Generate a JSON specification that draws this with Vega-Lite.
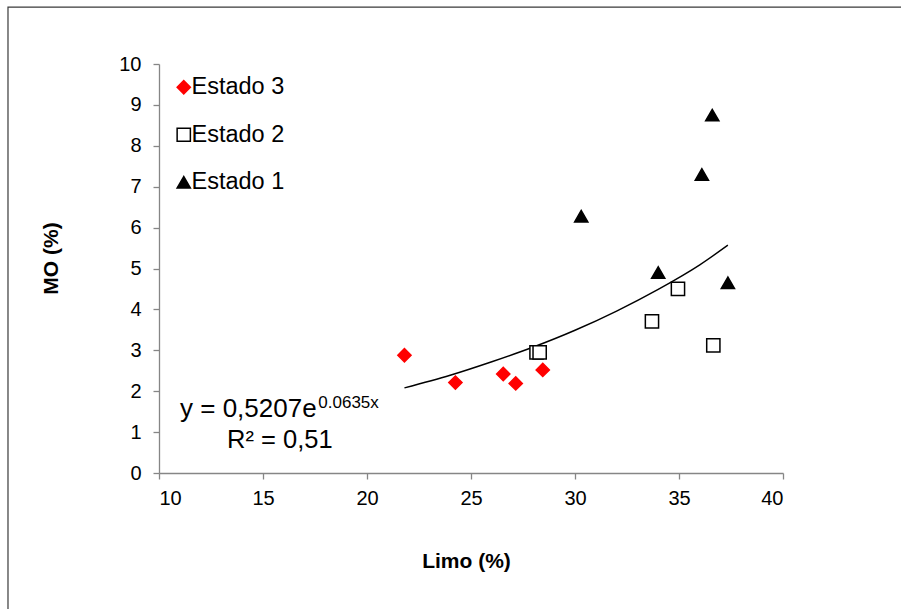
{
  "$schema": "https://vega.github.io/schema/vega-lite/v6.json",
  "width": 624,
  "height": 409,
  "autosize": {"type": "none"},
  "padding": {"left": 159, "top": 64, "right": 118, "bottom": 136},
  "background": "#ffffff",
  "config": {
    "view": {"stroke": null},
    "font": "Liberation Sans",
    "axis": {
      "grid": false,
      "domainColor": "#868686",
      "tickColor": "#868686",
      "domainWidth": 1.3,
      "tickWidth": 1.3,
      "tickSize": 6,
      "labelFont": "Liberation Sans",
      "labelFontSize": 20,
      "labelColor": "#000000",
      "titleFont": "Liberation Sans",
      "titleFontSize": 21,
      "titleFontWeight": "bold",
      "titleColor": "#000000"
    }
  },
  "datasets": {
    "puntos": [
      {"estado": "Estado 3", "limo": 21.8, "mo": 2.88},
      {"estado": "Estado 3", "limo": 24.25, "mo": 2.21},
      {"estado": "Estado 3", "limo": 26.55, "mo": 2.42},
      {"estado": "Estado 3", "limo": 27.15, "mo": 2.19},
      {"estado": "Estado 3", "limo": 28.45, "mo": 2.52},
      {"estado": "Estado 2", "limo": 28.15, "mo": 2.95},
      {"estado": "Estado 2", "limo": 28.3, "mo": 2.95},
      {"estado": "Estado 2", "limo": 33.7, "mo": 3.71},
      {"estado": "Estado 2", "limo": 34.95, "mo": 4.5},
      {"estado": "Estado 2", "limo": 36.65, "mo": 3.12},
      {"estado": "Estado 1", "limo": 30.3, "mo": 6.28},
      {"estado": "Estado 1", "limo": 34.0, "mo": 4.9},
      {"estado": "Estado 1", "limo": 36.1, "mo": 7.3},
      {"estado": "Estado 1", "limo": 36.6, "mo": 8.75},
      {"estado": "Estado 1", "limo": 37.35, "mo": 4.65}
    ],
    "tendencia": [
      {"limo": 21.8, "mo": 2.08},
      {"limo": 24, "mo": 2.39},
      {"limo": 26, "mo": 2.72},
      {"limo": 28, "mo": 3.08},
      {"limo": 30, "mo": 3.49},
      {"limo": 32, "mo": 3.96},
      {"limo": 34, "mo": 4.49},
      {"limo": 36, "mo": 5.09},
      {"limo": 37.35, "mo": 5.57}
    ]
  },
  "layer": [
    {
      "data": {"values": [{"marco": "borde"}]},
      "mark": {"type": "rect", "fill": null, "stroke": "#3a3a3a", "strokeWidth": 1.2, "clip": false},
      "encoding": {
        "x": {"datum": 2.74, "type": "quantitative", "scale": {"domain": [10, 40], "nice": false, "zero": false}},
        "x2": {"datum": 60},
        "y": {"datum": 11.39, "type": "quantitative", "scale": {"domain": [0, 10], "nice": false}},
        "y2": {"datum": -10}
      }
    },
    {
      "data": {"name": "tendencia"},
      "mark": {"type": "line", "color": "#000000", "strokeWidth": 1.4, "interpolate": "monotone"},
      "encoding": {
        "x": {"field": "limo", "type": "quantitative"},
        "y": {"field": "mo", "type": "quantitative"}
      }
    },
    {
      "data": {"name": "puntos"},
      "mark": {"type": "point", "filled": true, "size": 175, "strokeWidth": 1.5, "opacity": 1},
      "encoding": {
        "x": {
          "field": "limo", "type": "quantitative",
          "scale": {"domain": [10, 40], "nice": false, "zero": false},
          "axis": {"values": [10, 15, 20, 25, 30, 35, 40], "title": "Limo (%)", "labelPadding": 9, "titleX": 307, "titleY": 94, "titleBaseline": "alphabetic", "titleAlign": "center"}
        },
        "y": {
          "field": "mo", "type": "quantitative",
          "scale": {"domain": [0, 10], "nice": false},
          "axis": {"values": [0, 1, 2, 3, 4, 5, 6, 7, 8, 9, 10], "title": "MO (%)", "labelPadding": 12, "titleX": -102, "titleY": 194, "titleBaseline": "alphabetic", "titleAlign": "center", "titleAngle": 270}
        },
        "shape": {
          "field": "estado", "type": "nominal",
          "scale": {"domain": ["Estado 3", "Estado 2", "Estado 1"], "range": ["diamond", "square", "triangle-up"]},
          "legend": {"title": null}
        },
        "fill": {
          "field": "estado", "type": "nominal",
          "scale": {"domain": ["Estado 3", "Estado 2", "Estado 1"], "range": ["#ff0000", "#ffffff", "#000000"]},
          "legend": {"title": null}
        },
        "stroke": {
          "field": "estado", "type": "nominal",
          "scale": {"domain": ["Estado 3", "Estado 2", "Estado 1"], "range": ["#ff0000", "#000000", "#000000"]},
          "legend": {
            "title": null,
            "orient": "none",
            "legendX": 13,
            "legendY": 11.5,
            "padding": 0,
            "labelFont": "Liberation Sans",
            "labelFontSize": 23.5,
            "labelColor": "#000000",
            "labelOffset": -4,
            "rowPadding": 22.5,
            "symbolSize": 175,
            "symbolStrokeWidth": 1.5
          }
        }
      }
    },
    {
      "data": {"values": [{"texto": "y = 0,5207e"}]},
      "mark": {"type": "text", "align": "left", "baseline": "alphabetic", "fontSize": 26, "font": "Liberation Sans", "color": "#000000"},
      "encoding": {
        "x": {"datum": 11.01, "type": "quantitative"},
        "y": {"datum": 1.377, "type": "quantitative"},
        "text": {"field": "texto"}
      }
    },
    {
      "data": {"values": [{"texto": "0.0635x"}]},
      "mark": {"type": "text", "align": "left", "baseline": "alphabetic", "fontSize": 17, "font": "Liberation Sans", "color": "#000000"},
      "encoding": {
        "x": {"datum": 17.66, "type": "quantitative"},
        "y": {"datum": 1.582, "type": "quantitative"},
        "text": {"field": "texto"}
      }
    },
    {
      "data": {"values": [{"texto": "R² = 0,51"}]},
      "mark": {"type": "text", "align": "left", "baseline": "alphabetic", "fontSize": 25.5, "font": "Liberation Sans", "color": "#000000"},
      "encoding": {
        "x": {"datum": 13.27, "type": "quantitative"},
        "y": {"datum": 0.619, "type": "quantitative"},
        "text": {"field": "texto"}
      }
    }
  ]
}
